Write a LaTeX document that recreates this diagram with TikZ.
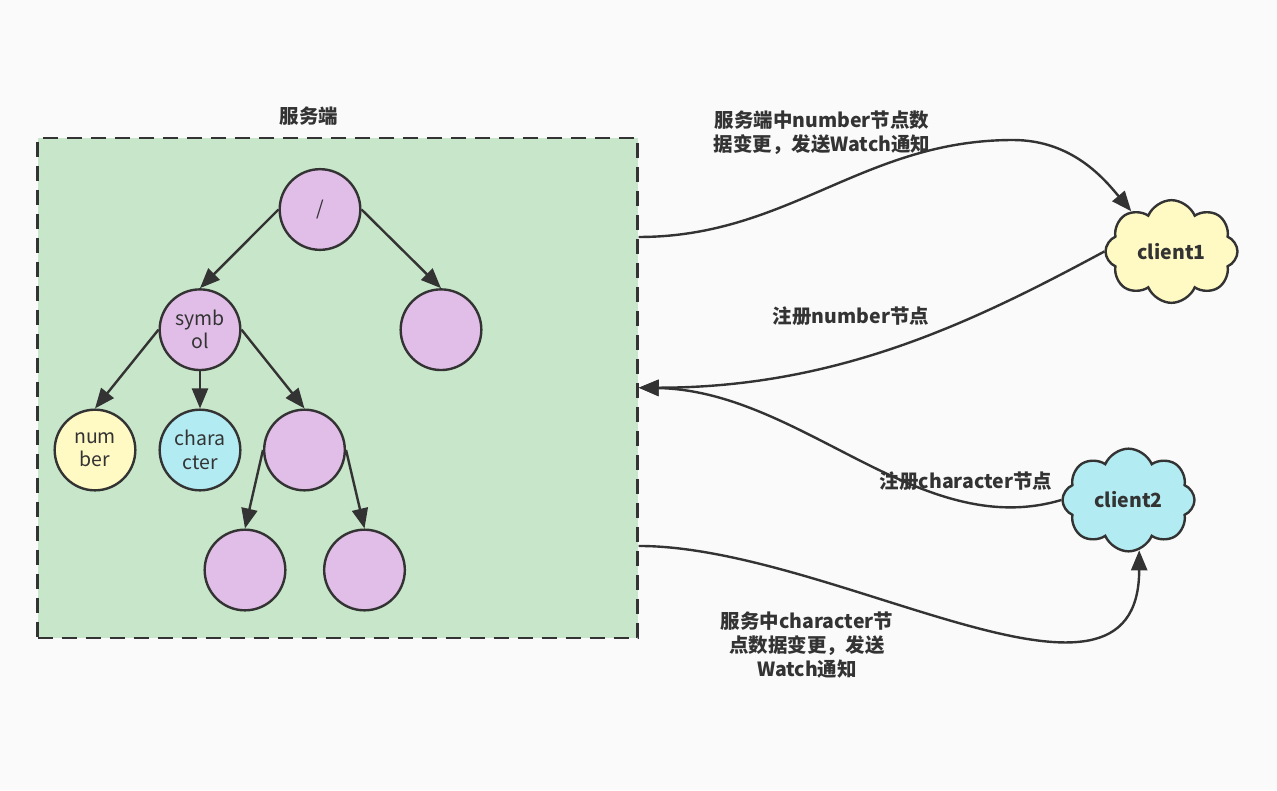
\documentclass[tikz,border=0pt]{standalone}
\usepackage{fontspec}
\setmainfont{Noto Sans CJK SC}
\usetikzlibrary{arrows.meta,shapes.symbols,calc}
\definecolor{bg}{HTML}{FAFAFA}
\definecolor{ink}{HTML}{333333}
\definecolor{boxgreen}{HTML}{C8E6C9}
\definecolor{purp}{HTML}{E1BEE7}
\definecolor{yel}{HTML}{FFF9C4}
\definecolor{cyan}{HTML}{B2EBF2}
\begin{document}
\begin{tikzpicture}[x=0.75pt,y=-0.75pt,
  every node/.style={text=ink, font=\fontsize{14.6pt}{17.5pt}\selectfont},
  treenode/.style={circle, draw=ink, line width=1.8pt, minimum size=60.5pt, inner sep=0pt, align=center, fill=purp},
  conn/.style={draw=ink, line width=1.8pt, -{Triangle[length=15pt,width=12pt]}},
  lbl/.style={font=\bfseries\fontsize{14.6pt}{18pt}\selectfont, align=center},
  cloudnode/.style={cloud, cloud puffs=8, cloud puff arc=135, aspect=1.3, draw=ink, line width=1.8pt, inner sep=0pt, minimum width=99pt, minimum height=77pt, font=\bfseries\fontsize{14.6pt}{18pt}\selectfont},
  serverbox/.style={rectangle, draw=ink, fill=boxgreen, line width=1.8pt, dash pattern=on 11.25pt off 6.75pt, minimum width=450pt, minimum height=375pt, inner sep=0pt}
]
\useasboundingbox[fill=bg] (0,0) rectangle (1277,790);

\node[serverbox] (server) at (337.5,387.7) {};
\node[lbl] (title) at (309,116) {服务端};

% tree
\node[treenode] (root) at (320,209.5) {/};
\node[treenode] (sym) at (200,329.7) {symb\\ol};
\node[treenode] (rc) at (441,329.7) {};
\node[treenode, fill=yel] (num) at (95,450) {num\\ber};
\node[treenode, fill=cyan] (chr) at (200,450) {chara\\cter};
\node[treenode] (blank) at (304.5,450) {};
\node[treenode] (bl) at (245,570) {};
\node[treenode] (br) at (364.5,570) {};

\draw[conn] (root.west) -- (sym.north);
\draw[conn] (root.east) -- (rc.north);
\draw[conn] (sym.west) -- (num.north);
\draw[conn] (sym.south) -- (chr.north);
\draw[conn] (sym.east) -- (blank.north);
\draw[conn] (blank.west) -- (bl.north);
\draw[conn] (blank.east) -- (br.north);

% clouds
\node[cloudnode, fill=yel] (c1) at (1171.5,251.5) {client1};
\node[cloudnode, fill=cyan] (c2) at (1128.5,500) {client2};

% connectors
\coordinate (w1) at (1013,140);
\draw[conn] ($(server.north east)!0.2!(server.south east)$) .. controls +(150,0) and +(-150,0) .. (w1) .. controls +(60,0) and +(-26,-31) .. (c1.135);
\draw[conn] (c1.west) .. controls +(-130,70) and +(200,0) .. (server.east);
\draw[conn] (c2.west) .. controls +(-142,42) and +(163,3) .. (server.east);
\draw[conn] ($(server.north east)!0.815!(server.south east)$) .. controls +(196,0) and +(0,196) .. (c2.-78);

% labels
\node[lbl] (l1) at (822,133) {服务端中number节点数\\据变更，发送Watch通知};
\node[lbl] (l2) at (851,316) {注册number节点};
\node[lbl] (l3) at (966,481) {注册character节点};
\node[lbl] (l4) at (807,645) {服务中character节\\点数据变更，发送\\Watch通知};
\end{tikzpicture}
\end{document}
